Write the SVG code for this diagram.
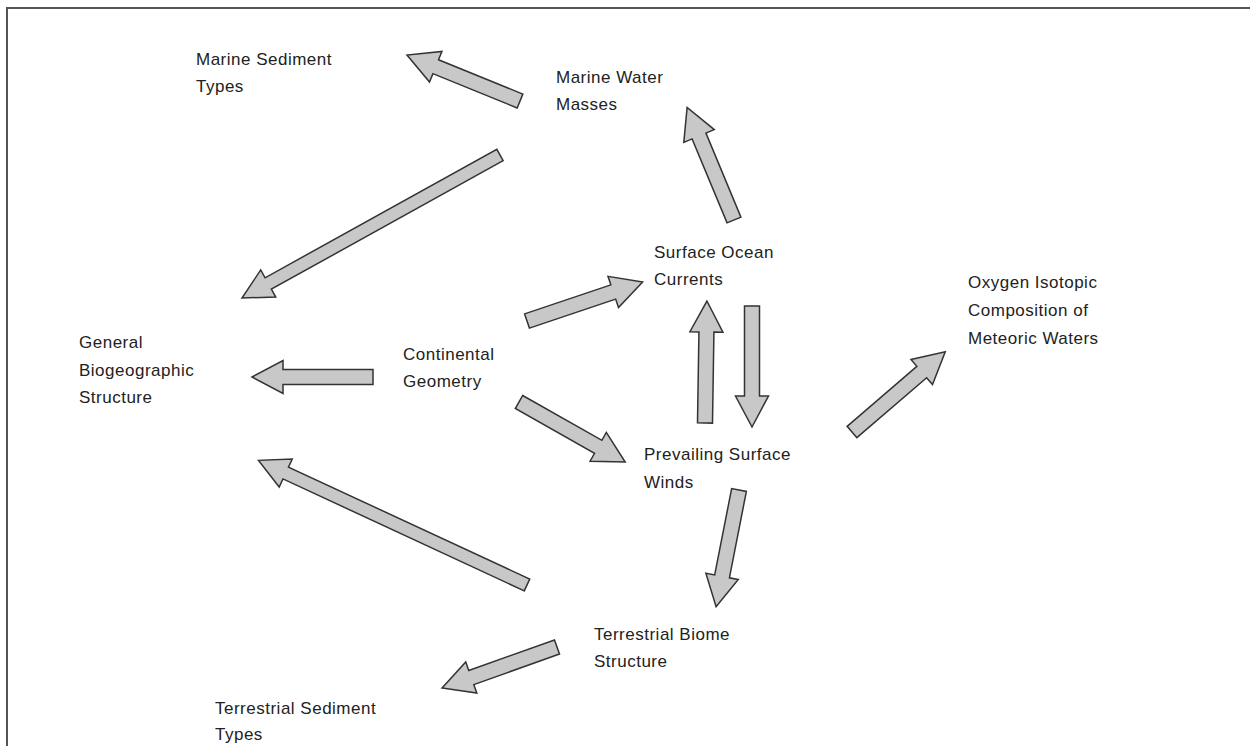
<svg xmlns="http://www.w3.org/2000/svg" width="1250" height="746" viewBox="0 0 1250 746">
<style>
.t{font-family:"Liberation Sans",Arial,sans-serif;font-size:17px;fill:#222;letter-spacing:0.5px}
.a{fill:#c8c8c8;stroke:#333;stroke-width:1.5;stroke-linejoin:miter}
</style>
<rect x="0" y="0" width="1250" height="746" fill="#fff"/>
<path d="M7,746 V8 H1250" fill="none" stroke="#555" stroke-width="2"/>
<g id="connectors">
<polygon class="a" transform="translate(520,101) rotate(-157.85)" points="0,-7.5 91,-7.5 91,-16.5 122,0 91,16.5 91,7.5 0,7.5"/>
<polygon class="a" transform="translate(500,155) rotate(151)" points="0,-6.5 265,-6.5 265,-15.5 295,0 265,15.5 265,6.5 0,6.5"/>
<polygon class="a" transform="translate(734,220) rotate(-112.6)" points="0,-7.5 91,-7.5 91,-16.5 122,0 91,16.5 91,7.5 0,7.5"/>
<polygon class="a" transform="translate(527,321) rotate(-18.6)" points="0,-7.5 91,-7.5 91,-16.5 122,0 91,16.5 91,7.5 0,7.5"/>
<polygon class="a" transform="translate(373,377) rotate(180)" points="0,-7.5 90,-7.5 90,-16.5 121,0 90,16.5 90,7.5 0,7.5"/>
<polygon class="a" transform="translate(519,402) rotate(29.5)" points="0,-7.5 91,-7.5 91,-16.5 122,0 91,16.5 91,7.5 0,7.5"/>
<polygon class="a" transform="translate(705,423) rotate(-89.1)" points="0,-7.5 91,-7.5 91,-16.5 122,0 91,16.5 91,7.5 0,7.5"/>
<polygon class="a" transform="translate(752,306) rotate(90)" points="0,-7.5 90,-7.5 90,-16.5 121,0 90,16.5 90,7.5 0,7.5"/>
<polygon class="a" transform="translate(852,432) rotate(-40.7)" points="0,-7.5 92,-7.5 92,-16.5 123,0 92,16.5 92,7.5 0,7.5"/>
<polygon class="a" transform="translate(739,490) rotate(101.1)" points="0,-7.5 88,-7.5 88,-16.5 119,0 88,16.5 88,7.5 0,7.5"/>
<polygon class="a" transform="translate(527,585) rotate(-155.1)" points="0,-6.5 266,-6.5 266,-15.5 296,0 266,15.5 266,6.5 0,6.5"/>
<polygon class="a" transform="translate(557,647) rotate(160.4)" points="0,-7.5 91,-7.5 91,-16.5 122,0 91,16.5 91,7.5 0,7.5"/>
</g>
<g id="marine-sediment"><text class="t" x="196" y="65">Marine Sediment</text><text class="t" x="196" y="92">Types</text></g>
<g id="marine-water"><text class="t" x="556" y="83">Marine Water</text><text class="t" x="556" y="110">Masses</text></g>
<g id="surface-ocean"><text class="t" x="654" y="258">Surface Ocean</text><text class="t" x="654" y="285">Currents</text></g>
<g id="oxygen"><text class="t" x="968" y="288">Oxygen Isotopic</text><text class="t" x="968" y="316">Composition of</text><text class="t" x="968" y="344">Meteoric Waters</text></g>
<g id="general"><text class="t" x="79" y="348">General</text><text class="t" x="79" y="376">Biogeographic</text><text class="t" x="79" y="403">Structure</text></g>
<g id="continental"><text class="t" x="403" y="360">Continental</text><text class="t" x="403" y="387">Geometry</text></g>
<g id="prevailing"><text class="t" x="644" y="460">Prevailing Surface</text><text class="t" x="644" y="488">Winds</text></g>
<g id="terr-biome"><text class="t" x="594" y="640">Terrestrial Biome</text><text class="t" x="594" y="667">Structure</text></g>
<g id="terr-sediment"><text class="t" x="215" y="714">Terrestrial Sediment</text><text class="t" x="215" y="740">Types</text></g>
</svg>
